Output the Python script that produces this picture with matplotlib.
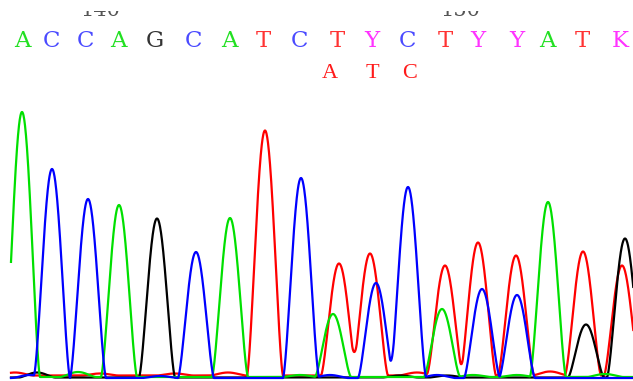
import numpy as np
import matplotlib
matplotlib.use("Agg")
import matplotlib.pyplot as plt
from matplotlib.patches import Rectangle

# ---- base calls (primary) ----
bases = ["A", "C", "C", "A", "G", "C", "A", "T", "C", "T", "Y", "C", "T", "Y", "Y", "A", "T", "K"]
base_pos = [22, 52, 85, 118, 155, 193, 229, 263, 300, 337, 372, 408, 445, 478, 517, 547, 582, 620]

# ---- secondary calls ----
alt_bases = ["A", "T", "C"]
alt_pos = [330, 372, 410]

# ---- position numbers ----
pos_labels = ["140", "150"]
pos_label_x = [100, 460]

# ---- trace peaks (scan position, signal height) ----
green_pos = [22, 119, 230, 333, 442, 548, 78, 300, 473, 517, 605]
green_hgt = [265, 172, 159, 63, 68, 175, 5, 2, 2, 2, 3]
blue_pos = [52, 88, 196, 301, 376, 408, 482, 517, 30, 330, 437, 160]
blue_hgt = [209, 179, 126, 200, 95, 191, 89, 83, 3, 3, 3, 2]
black_pos = [157, 586, 625, 37, 447, 400]
black_hgt = [159, 53, 139, 5, 2, 2]
red_pos = [265, 339, 370, 445, 478, 516, 583, 622, 15, 100, 175, 228, 417, 550]
red_hgt = [245, 112, 122, 110, 133, 120, 124, 110, 3, 2, 2, 3, 3, 4]

HALF_W = 18.0   # half width of a peak at its base (scan units)
scan = np.arange(11, 634, 0.25)

def trace(pos, hgt, offset=0.0):
    y = np.full_like(scan, offset, dtype=float)
    for p, h in zip(pos, hgt):
        d = np.clip(np.abs(scan - p) / HALF_W, 0, 1)
        y += h * np.cos(np.pi / 2 * d) ** 1.5
    return y

W, H = 633, 381
fig = plt.figure(figsize=(W / 100, H / 100), dpi=100)
ax = fig.add_axes([0, 0, 1, 1])
ax.set_xlim(0, W)
ax.set_ylim(-3, 378)
ax.axis("off")

lw = 1.6
ax.plot(scan, trace(red_pos, red_hgt, 2.5), color="#ff0000", lw=lw, zorder=2)
ax.plot(scan, trace(black_pos, black_hgt, 0.5), color="#000000", lw=lw, zorder=2)
ax.plot(scan, trace(green_pos, green_hgt, 1.0), color="#00e000", lw=lw, zorder=2)
ax.plot(scan, trace(blue_pos, blue_hgt, 0.0), color="#0000ff", lw=lw, zorder=3)

col = {"A": "#22e022", "C": "#4a4aff", "G": "#333333", "T": "#ff3333",
       "Y": "#ff33ff", "K": "#ff33ff"}
for b, x in zip(bases, base_pos):
    ax.text(x, 331, b, color=col[b], fontsize=16.5, family="DejaVu Serif",
            ha="center", va="baseline")
for b, x in zip(alt_bases, alt_pos):
    ax.text(x, 300, b, color="#ff1a1a", fontsize=16, family="Liberation Serif",
            ha="center", va="baseline")
for t, x in zip(pos_labels, pos_label_x):
    ax.text(x, 362, t, color="#555555", fontsize=15, family="DejaVu Serif",
            ha="center", va="baseline")

fig.add_artist(Rectangle((0, 1 - 11 / H), 1, 11 / H, transform=fig.transFigure,
                         facecolor="white", edgecolor="none", zorder=10))

fig.savefig("out.png", dpi=100, facecolor="white")
